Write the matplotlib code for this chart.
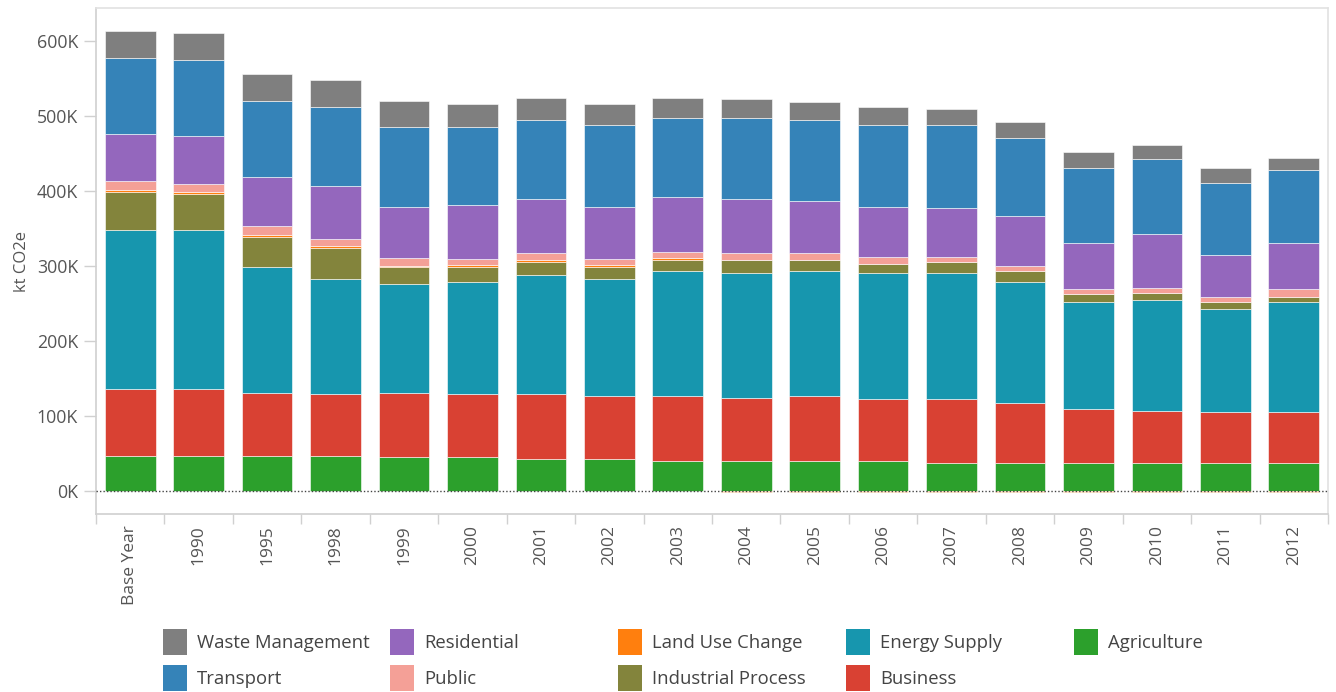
import numpy as np
import matplotlib
matplotlib.use("Agg")
import matplotlib.pyplot as plt
from matplotlib.patches import Rectangle

plt.rcParams['font.family'] = ['Open Sans', 'DejaVu Sans']

years = ["Base Year", "1990", "1995", "1998", "1999", "2000", "2001", "2002", "2003",
         "2004", "2005", "2006", "2007", "2008", "2009", "2010", "2011", "2012"]

# kt CO2e, in thousands
agriculture = [47, 47, 47, 47, 44.5, 44.5, 42, 42, 40, 40, 40, 40, 37.5, 37.5, 37.5, 37.5, 37.5, 37.5]
business = [89, 89, 84, 81.5, 86.5, 84.5, 87, 84.5, 86.5, 84, 86.5, 82, 84.5, 79.5, 71.5, 69.5, 67.5, 67.5]
energy_supply = [212, 212, 167, 154.5, 145, 149, 159, 156, 166.5, 166, 166.5, 168, 168, 161, 142.5, 147, 137, 147]
industrial = [51, 48.5, 41, 41, 22, 20, 17, 15.5, 14.5, 17.5, 14.5, 12.5, 15, 15, 10.5, 10, 10, 7]
land_use = [2, 2.5, 2, 2, 2, 2.5, 2.5, 2.5, 2.5, -2, -2, -2, -2, -2, -2, -2, -2, -2]
public = [12, 10, 12, 10, 10, 8.5, 9.5, 8.5, 9, 9.5, 9.5, 9.5, 7, 7, 7, 7, 7, 10]
residential = [62.5, 64, 65, 70, 69, 72, 72, 70, 72.5, 72, 69.5, 67, 65, 67, 62, 72, 55, 62]
transport = [101.5, 102, 101.5, 106, 106, 104, 106, 109, 105.5, 108, 108.5, 109, 111, 104, 99, 99, 96.5, 96.5]
waste = [36, 36, 36, 36, 34.5, 31.5, 29, 28.5, 27, 25, 24, 24, 21, 21.5, 21.5, 19, 19.5, 17]

# bottom-to-top stack order
series = [
    ("Agriculture", agriculture, "#2ca02c"),
    ("Business", business, "#d94133"),
    ("Energy Supply", energy_supply, "#1796ae"),
    ("Industrial Process", industrial, "#83843c"),
    ("Land Use Change", land_use, "#ff7f0e"),
    ("Public", public, "#f4a097"),
    ("Residential", residential, "#9467bd"),
    ("Transport", transport, "#3583b8"),
    ("Waste Management", waste, "#7f7f7f"),
]

W, H = 1336, 692
fig = plt.figure(figsize=(W / 100, H / 100), dpi=100)
ax = fig.add_axes([96 / W, 1 - 514 / H, (1328 - 96) / W, (514 - 8) / H])

x = np.arange(len(years))
pos_base = np.zeros(len(years))
neg_base = np.zeros(len(years))
for name, vals, col in series:
    v = np.array(vals, dtype=float)
    bottom = np.where(v >= 0, pos_base, neg_base)
    ax.bar(x, v * 1000, width=0.74, bottom=bottom * 1000, color=col,
           edgecolor="white", linewidth=0.4)
    pos_base = pos_base + np.where(v >= 0, v, 0)
    neg_base = neg_base + np.where(v < 0, v, 0)

ax.axhline(0, color="#444444", linestyle=(0, (1, 1.5)), linewidth=1.0, zorder=5)

ax.set_xlim(-0.48, 17.47)
ax.set_ylim(-31000, 644000)

txt_col = "#555555"
yt = np.arange(0, 600001, 100000)
ax.set_yticks(yt)
ax.set_yticklabels([f"{int(t / 1000)}K" for t in yt], fontsize=12.8, color=txt_col)
ax.tick_params(axis="y", length=9, width=1, color="#d0d0d0", pad=4)

ax.set_xticks(x)
ax.set_xticklabels(years, rotation=90, fontsize=12.5, color=txt_col, va="top")
ax.tick_params(axis="x", length=0, pad=8)
ax.set_xticks(np.arange(-0.5, len(years)), minor=True)
ax.tick_params(axis="x", which="minor", length=7, width=1, color="#d0d0d0")

ax.set_ylabel("kt CO2e", fontsize=12, color=txt_col, labelpad=5)

for side in ["left", "bottom"]:
    ax.spines[side].set_color("#d0d0d0")
    ax.spines[side].set_linewidth(1.2)
for side in ["top", "right"]:
    ax.spines[side].set_color("#e2e2e2")
    ax.spines[side].set_linewidth(1.2)

# legend laid out like the Tableau one
legend_rows = [
    ["Waste Management", "Residential", "Land Use Change", "Energy Supply", "Agriculture"],
    ["Transport", "Public", "Industrial Process", "Business"],
]
colors = {name: col for name, _, col in series}
col_x = [163, 390, 618, 846, 1074]
row_y = [642, 678]
for r, names in enumerate(legend_rows):
    for c, name in enumerate(names):
        fig.add_artist(Rectangle(((col_x[c]) / W, 1 - (row_y[r] + 13) / H), 24 / W, 26 / H,
                                 transform=fig.transFigure, facecolor=colors[name],
                                 edgecolor="none"))
        fig.text((col_x[c] + 34) / W, 1 - (row_y[r] + 1) / H, name, fontsize=13.3,
                 color="#444444", va="center", ha="left")

fig.savefig("out.png", dpi=100)
